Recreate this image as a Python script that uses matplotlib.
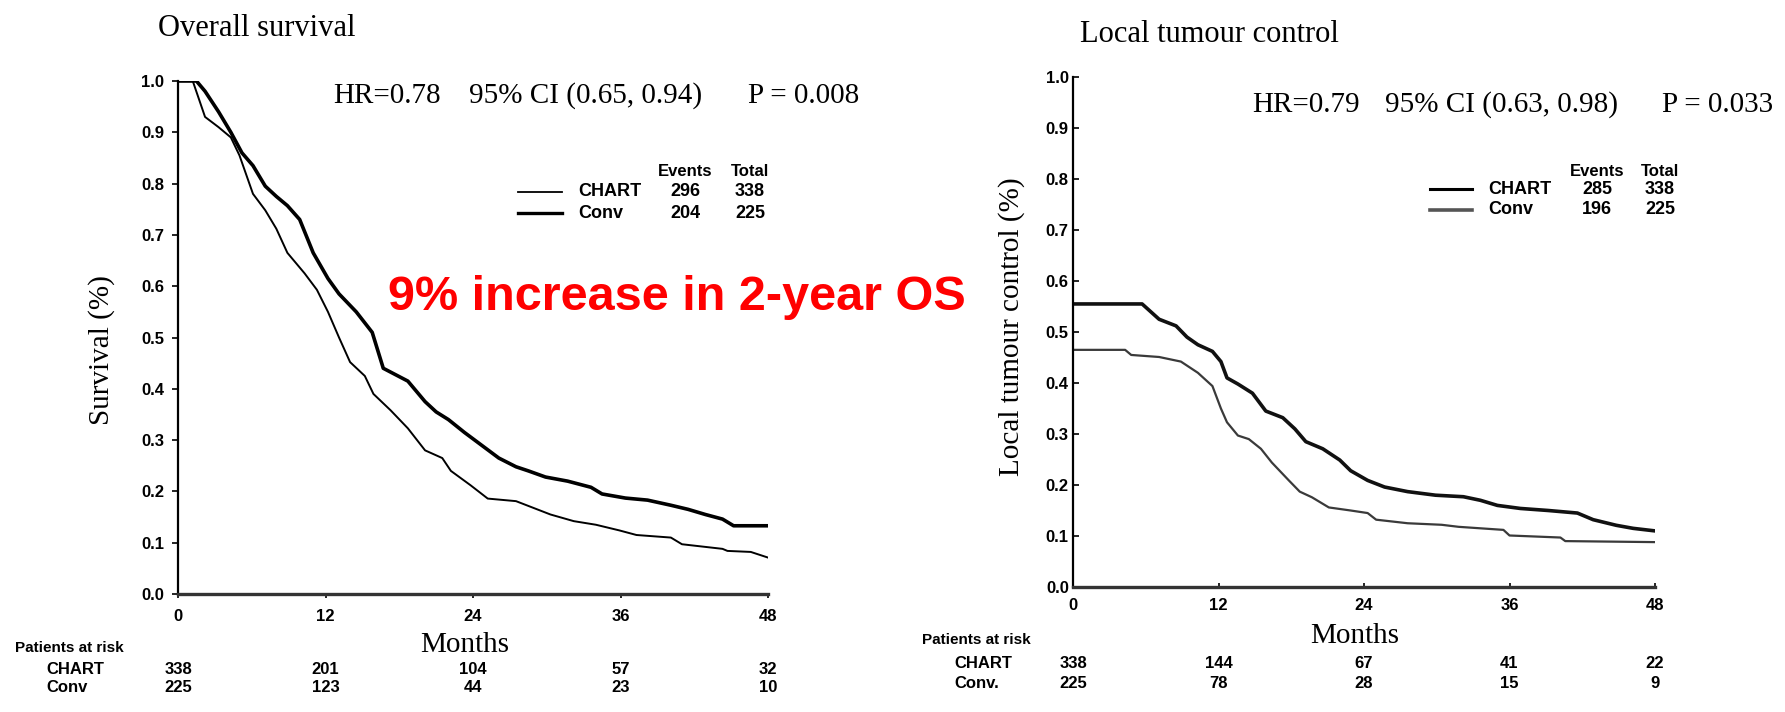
import matplotlib
matplotlib.use("Agg")
import matplotlib.pyplot as plt
from matplotlib import transforms
from matplotlib.lines import Line2D

# ---- data ----
month_ticks = [0, 12, 24, 36, 48]
surv_ticks = [0.0, 0.1, 0.2, 0.3, 0.4, 0.5, 0.6, 0.7, 0.8, 0.9, 1.0]

# overall survival
os_chart_t = [0, 1.5, 2.2, 3.3, 4.3, 5.2, 6.1, 7.1, 8.0, 8.9, 9.9, 11.0, 12.2, 13.1, 14.5, 15.8, 16.7,
              18.7, 20.1, 21.0, 22.0, 23.3, 24.7, 26.1, 27.5, 28.5, 29.9, 31.7, 33.6, 34.5, 36.4, 38.2,
              40.1, 41.5, 42.9, 44.3, 45.2, 48]
os_chart_s = [1.0, 1.0, 0.98, 0.94, 0.90, 0.86, 0.835, 0.795, 0.775, 0.757, 0.73, 0.665, 0.615, 0.585,
              0.55, 0.51, 0.44, 0.415, 0.375, 0.355, 0.34, 0.315, 0.29, 0.265, 0.248, 0.24, 0.228, 0.22,
              0.208, 0.195, 0.187, 0.183, 0.173, 0.165, 0.155, 0.146, 0.133, 0.133]
os_conv_t = [0, 1.2, 2.2, 3.3, 4.3, 5.0, 6.1, 7.1, 8.0, 8.9, 10.3, 11.3, 12.2, 13.1, 14.0, 15.2, 15.9,
             17.3, 18.7, 20.1, 21.5, 22.2, 23.8, 25.2, 27.5, 28.9, 30.3, 32.2, 34.0, 35.9, 37.3, 40.1,
             41.0, 44.3, 44.7, 46.6, 48]
os_conv_s = [1.0, 1.0, 0.93, 0.91, 0.89, 0.855, 0.78, 0.748, 0.712, 0.665, 0.625, 0.593, 0.55, 0.50,
             0.452, 0.425, 0.39, 0.358, 0.323, 0.28, 0.265, 0.24, 0.212, 0.186, 0.181, 0.168, 0.155,
             0.142, 0.135, 0.124, 0.115, 0.11, 0.097, 0.088, 0.084, 0.082, 0.071]

# local tumour control
ltc_chart_t = [0, 5.7, 6.4, 7.1, 8.5, 9.4, 10.3, 11.5, 12.2, 12.7, 13.6, 14.8, 15.9, 17.3, 18.3, 19.2,
               20.6, 22.0, 22.9, 24.3, 25.7, 27.6, 29.9, 32.2, 33.6, 35.0, 36.9, 39.2, 41.6, 42.9, 44.8,
               46.2, 48]
ltc_chart_s = [0.555, 0.555, 0.54, 0.525, 0.512, 0.49, 0.475, 0.462, 0.442, 0.41, 0.398, 0.38, 0.345,
               0.332, 0.31, 0.285, 0.271, 0.249, 0.228, 0.209, 0.196, 0.187, 0.18, 0.177, 0.17, 0.16,
               0.154, 0.15, 0.145, 0.132, 0.121, 0.115, 0.11]
ltc_conv_t = [0, 4.3, 4.8, 7.1, 8.9, 10.3, 11.5, 12.2, 12.7, 13.6, 14.5, 15.5, 16.4, 17.8, 18.7, 19.7,
              21.1, 22.9, 24.3, 25.0, 27.6, 30.4, 31.8, 35.5, 36.0, 40.2, 40.6, 48]
ltc_conv_s = [0.465, 0.465, 0.455, 0.451, 0.442, 0.42, 0.394, 0.35, 0.323, 0.297, 0.29, 0.271, 0.244,
              0.209, 0.187, 0.176, 0.156, 0.15, 0.145, 0.132, 0.125, 0.122, 0.118, 0.112, 0.101, 0.097,
              0.09, 0.088]

# legend tables
os_groups = ["CHART", "Conv"]
os_events = [296, 204]
os_total = [338, 225]
ltc_groups = ["CHART", "Conv"]
ltc_events = [285, 196]
ltc_total = [338, 225]

# patients at risk
os_risk_groups = ["CHART", "Conv"]
os_risk_chart = [338, 201, 104, 57, 32]
os_risk_conv = [225, 123, 44, 23, 10]
ltc_risk_groups = ["CHART", "Conv."]
ltc_risk_chart = [338, 144, 67, 41, 22]
ltc_risk_conv = [225, 78, 28, 15, 9]

SERIF = "Liberation Serif"
SANS = "Liberation Sans"
W, H = 1785, 712

fig = plt.figure(figsize=(17.85, 7.12), dpi=100)


def fx(x):
    return x / W


def fy(y):
    return 1 - y / H


ax1 = fig.add_axes([fx(178), fy(594), fx(768) - fx(178), fy(81) - fy(594)])
ax2 = fig.add_axes([fx(1073), fy(587), fx(1655) - fx(1073), fy(77) - fy(587)])

ax1.plot(os_chart_t, os_chart_s, color="black", lw=2.6)
ax1.plot(os_conv_t, os_conv_s, color="black", lw=1.4)
ax2.plot(ltc_chart_t, ltc_chart_s, color="#111111", lw=2.6)
ax2.plot(ltc_conv_t, ltc_conv_s, color="#3a3a3a", lw=1.6)

for ax, tdir in ((ax1, "out"), (ax2, "in")):
    ax.set_xlim(0, 48)
    ax.set_ylim(0, 1.0)
    ax.set_xticks(month_ticks)
    ax.set_yticks(surv_ticks)
    ax.set_yticklabels(["%.1f" % v for v in surv_ticks])
    ax.spines["top"].set_visible(False)
    ax.spines["right"].set_visible(False)
    ax.spines["left"].set_linewidth(1.6)
    ax.spines["bottom"].set_linewidth(2.4)
    ax.spines["bottom"].set_color("#333333")
    ax.tick_params(axis="y", direction=tdir, length=4, width=1.2,
                   pad=6 if tdir == "out" else 3)
    ax.tick_params(axis="x", direction=tdir, length=3, width=1.2, pad=8)
    for lab in ax.get_xticklabels() + ax.get_yticklabels():
        lab.set_fontfamily(SANS)
        lab.set_fontweight("bold")
        lab.set_fontsize(12)
    ax.margins(0)

# titles
fig.text(fx(158), fy(29), "Overall survival", family=SERIF, fontsize=22, va="center", ha="left")
fig.text(fx(1080), fy(34), "Local tumour control", family=SERIF, fontsize=22, va="center", ha="left")

# y labels
fig.text(fx(102), fy(350), "Survival (%)", family=SERIF, fontsize=21, rotation=90,
         va="center", ha="center")
fig.text(fx(1012), fy(327), "Local tumour control (%)", family=SERIF, fontsize=21, rotation=90,
         va="center", ha="center")

# HR annotations
fig.text(fx(333), fy(96), "HR=0.78", family=SERIF, fontsize=21, va="center")
fig.text(fx(469), fy(96), "95% CI (0.65, 0.94)", family=SERIF, fontsize=21, va="center")
fig.text(fx(748), fy(96), "P = 0.008", family=SERIF, fontsize=21, va="center")
fig.text(fx(1252), fy(105), "HR=0.79", family=SERIF, fontsize=21, va="center")
fig.text(fx(1385), fy(105), "95% CI (0.63, 0.98)", family=SERIF, fontsize=21, va="center")
fig.text(fx(1662), fy(105), "P = 0.033", family=SERIF, fontsize=21, va="center")

# red callout
fig.text(fx(388), fy(298), "9% increase in 2-year OS", family=SANS, fontweight="bold",
         fontsize=35, color="#ff0000", va="center", ha="left")


# legend blocks
def legend_block(x_line, ys, widths, x_lab, x_ev, x_tot, y_head, groups, events, totals, colors):
    fig.text(fx(x_ev), fy(y_head), "Events", family=SANS, fontweight="bold", fontsize=12,
             ha="center", va="center")
    fig.text(fx(x_tot), fy(y_head), "Total", family=SANS, fontweight="bold", fontsize=12,
             ha="center", va="center")
    for y, lw, c, g, e, t in zip(ys, widths, colors, groups, events, totals):
        fig.add_artist(Line2D([fx(x_line[0]), fx(x_line[1])], [fy(y), fy(y)], lw=lw, color=c,
                              transform=fig.transFigure))
        fig.text(fx(x_lab), fy(y), g, family=SANS, fontweight="bold", fontsize=13, va="center")
        fig.text(fx(x_ev), fy(y), str(e), family=SANS, fontweight="bold", fontsize=13,
                 ha="center", va="center")
        fig.text(fx(x_tot), fy(y), str(t), family=SANS, fontweight="bold", fontsize=13,
                 ha="center", va="center")


legend_block((518, 562), (192, 213), (1.3, 2.4), 578, 685, 750, 172,
             os_groups, os_events, os_total, ("black", "black"))
legend_block((1430, 1472), (189, 210), (2.2, 2.6), 1488, 1597, 1660, 172,
             ltc_groups, ltc_events, ltc_total, ("black", "#555555"))

# x labels
for ax, xm, y in ((ax1, 23.3, 645), (ax2, 23.2, 636)):
    tr = transforms.blended_transform_factory(ax.transData, fig.transFigure)
    ax.text(xm, fy(y), "Months", family=SERIF, fontsize=21, ha="center", va="center",
            transform=tr)


# patients at risk tables
def risk_table(ax, x_title, y_title, x_lab, y_rows, groups, rows):
    tr = transforms.blended_transform_factory(ax.transData, fig.transFigure)
    fig.text(fx(x_title), fy(y_title), "Patients at risk", family=SANS, fontweight="bold",
             fontsize=11, va="center")
    for y, g, vals in zip(y_rows, groups, rows):
        fig.text(fx(x_lab), fy(y), g, family=SANS, fontweight="bold", fontsize=12, va="center")
        for m, v in zip(month_ticks, vals):
            ax.text(m, fy(y), str(v), family=SANS, fontweight="bold", fontsize=12,
                    ha="center", va="center", transform=tr, clip_on=False)


risk_table(ax1, 15, 648, 46, (670, 687), os_risk_groups, (os_risk_chart, os_risk_conv))
risk_table(ax2, 922, 640, 954, (663, 683), ltc_risk_groups, (ltc_risk_chart, ltc_risk_conv))

fig.savefig("out.png", dpi=100)
